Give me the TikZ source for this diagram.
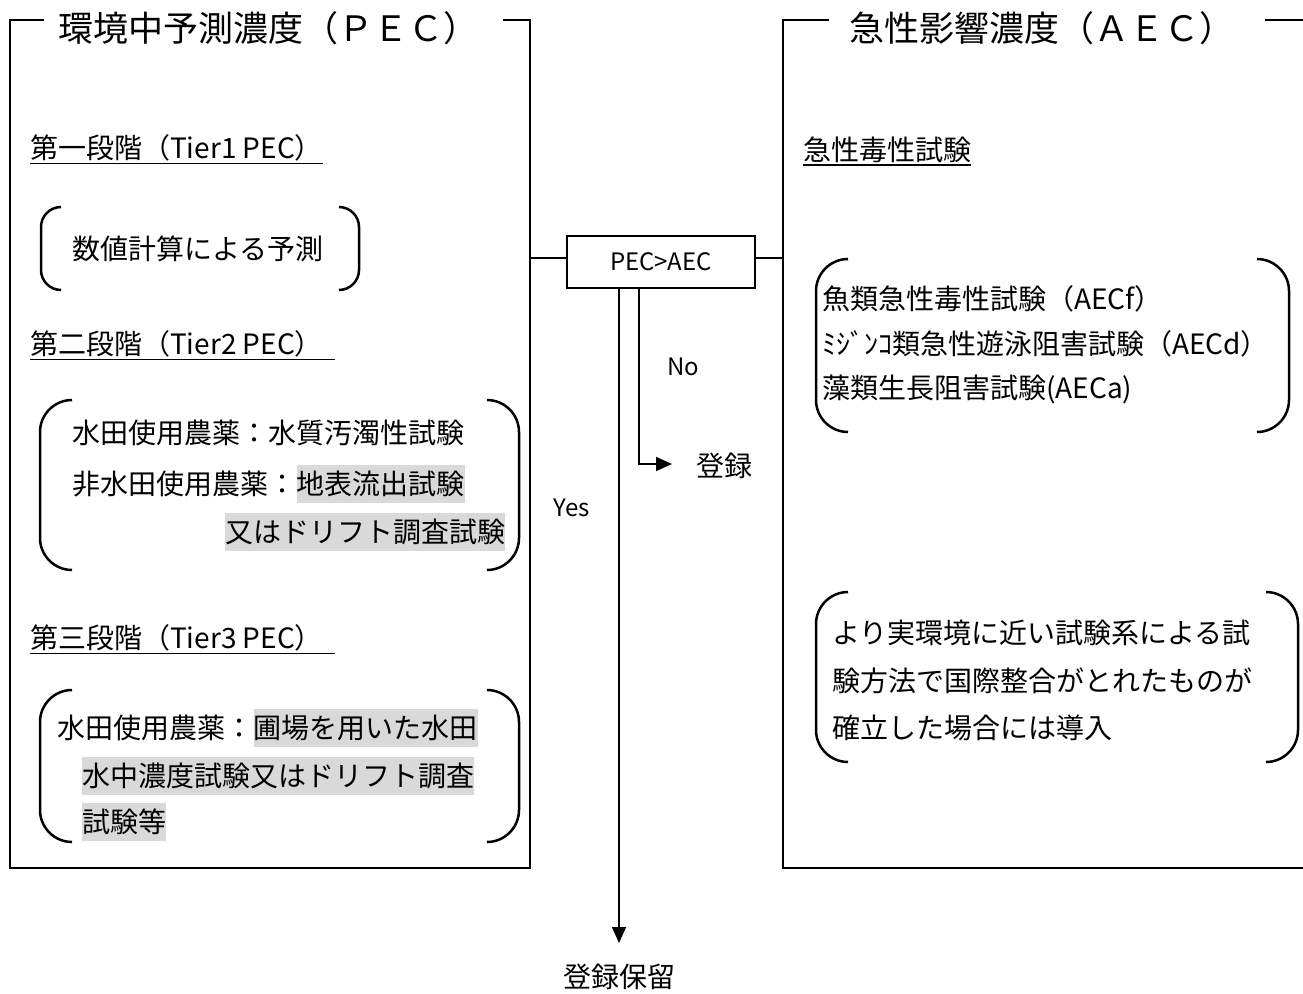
\documentclass[tikz,border=0pt]{standalone}
\usepackage{fontspec}
\setmainfont{Noto Sans CJK JP}
\usetikzlibrary{arrows.meta}
\definecolor{hl}{HTML}{D9D9D9}
\newcommand\brkpair[5]{%
  \pgfmathsetmacro\bkA{#3+#5}\pgfmathsetmacro\bkB{#4-#5}%
  \pgfmathsetmacro\bkL{#1+#5}\pgfmathsetmacro\bkR{#2-#5}%
  \pgfmathsetmacro\bkLc{#1+0.45*#5}\pgfmathsetmacro\bkRc{#2-0.45*#5}%
  \pgfmathsetmacro\bkAc{#3+0.45*#5}\pgfmathsetmacro\bkBc{#4-0.45*#5}%
  \draw[brk] (\bkL,#3) .. controls (\bkLc,#3) and (#1,\bkAc) .. (#1,\bkA) -- (#1,\bkB) .. controls (#1,\bkBc) and (\bkLc,#4) .. (\bkL,#4);
  \draw[brk] (\bkR,#3) .. controls (\bkRc,#3) and (#2,\bkAc) .. (#2,\bkA) -- (#2,\bkB) .. controls (#2,\bkBc) and (\bkRc,#4) .. (\bkR,#4);}
\tikzset{
  frame/.style={line width=1.6pt, line join=miter},
  brk/.style={line width=2.5pt},
  conn/.style={line width=1.6pt},
  arr/.style={line width=1.6pt, -{Triangle[length=16pt,width=14pt]}},
  title/.style={font=\fontsize{35}{40}\selectfont, inner sep=0pt},
  body/.style={font=\fontsize{28}{32}\selectfont, inner sep=0pt, anchor=west},
  hlbox/.style={body, fill=hl, minimum height=38pt},
  small/.style={font=\fontsize{24}{28}\selectfont, inner sep=0pt},
  decbox/.style={draw, line width=1.6pt, minimum width=188pt, minimum height=52pt, font=\fontsize{24}{28}\selectfont},
}
\begin{document}
\begin{tikzpicture}[x=1pt,y=-1pt]
\useasboundingbox (0,0) rectangle (1303,993);
% left frame
\draw[frame] (44,20) -- (10,20) -- (10,868) -- (530,868) -- (530,20) -- (503,20);
\node[title] (ltitle) at (268,28) {環境中予測濃度（ＰＥＣ）};
% right frame
\draw[frame] (829,20) -- (783,20) -- (783,868) -- (1303,868);
\draw[frame] (1265,20) -- (1303,20);
\node[title] (rtitle) at (1042,28) {急性影響濃度（ＡＥＣ）};

% left headings
\node[body] (h1) at (30,148) {第一段階（Tier1 PEC）};
\draw[conn] ([yshift=-2pt]h1.south west) -- ([yshift=-2pt]h1.south east);
\node[body] (h2) at (30,344) {第二段階（Tier2 PEC）\hspace*{12pt}};
\draw[conn] ([yshift=-2pt]h2.south west) -- ([yshift=-2pt]h2.south east);
\node[body] (h3) at (30,638) {第三段階（Tier3 PEC）\hspace*{12pt}};
\draw[conn] ([yshift=-2pt]h3.south west) -- ([yshift=-2pt]h3.south east);

% tier 1
\brkpair{41}{359}{207}{290}{20}
\node[body] (t1) at (72,249) {数値計算による予測};

% tier 2
\brkpair{40}{519}{400}{570}{32}
\node[body] (t2a) at (72,433) {水田使用農薬：水質汚濁性試験};
\node[body] (t2b) at (72,484) {非水田使用農薬：};
\node[hlbox] (t2c) at (t2b.east) {地表流出試験};
\node[hlbox] (t2d) at (225,532) {又はドリフト調査試験};

% tier 3
\brkpair{40}{519}{690}{842}{32}
\node[body] (t3a) at (57,728) {水田使用農薬：};
\node[hlbox] (t3b) at (t3a.east) {圃場を用いた水田};
\node[hlbox] (t3c) at (82,776) {水中濃度試験又はドリフト調査};
\node[hlbox] (t3d) at (82,822) {試験等};

% right side
\node[body] (h4) at (803,150) {急性毒性試験};
\draw[conn] ([yshift=-2pt]h4.south west) -- ([yshift=-2pt]h4.south east);
\brkpair{816}{1289}{259}{432}{32}
\node[body] (a1) at (822,299) {魚類急性毒性試験（AECf）};
\node[body] (a2) at (822,344) {ﾐｼﾞﾝｺ類急性遊泳阻害試験（AECd）};
\node[body] (a3) at (822,389) {藻類生長阻害試験(AECa)};
\brkpair{816}{1298}{592}{762}{32}
\node[body] (b1) at (832,633) {より実環境に近い試験系による試};
\node[body] (b2) at (832,681) {験方法で国際整合がとれたものが};
\node[body] (b3) at (832,728) {確立した場合には導入};

% decision
\node[decbox] (dec) at (661,262) {PEC>AEC};
\coordinate (lR) at (530,258);
\coordinate (rL) at (783,258);
\draw[conn] (lR) -- (lR -| dec.west);
\draw[conn] (rL -| dec.east) -- (rL);

% No branch
\coordinate (nox) at (639,464);
\coordinate (noend) at (672,464);
\node[small] (no) at (683,367) {No};
\node[font=\fontsize{28}{32}\selectfont, inner sep=0pt] (reg) at (724,466) {登録};
\draw[arr] (nox |- dec.south) |- (noend);

% Yes branch
\coordinate (yesx) at (619,943);
\node[small] (yes) at (572,508) {Yes};
\node[font=\fontsize{28}{32}\selectfont, inner sep=0pt] (hold) at (619,977) {登録保留};
\draw[arr] (yesx |- dec.south) -- (yesx);
\end{tikzpicture}
\end{document}
